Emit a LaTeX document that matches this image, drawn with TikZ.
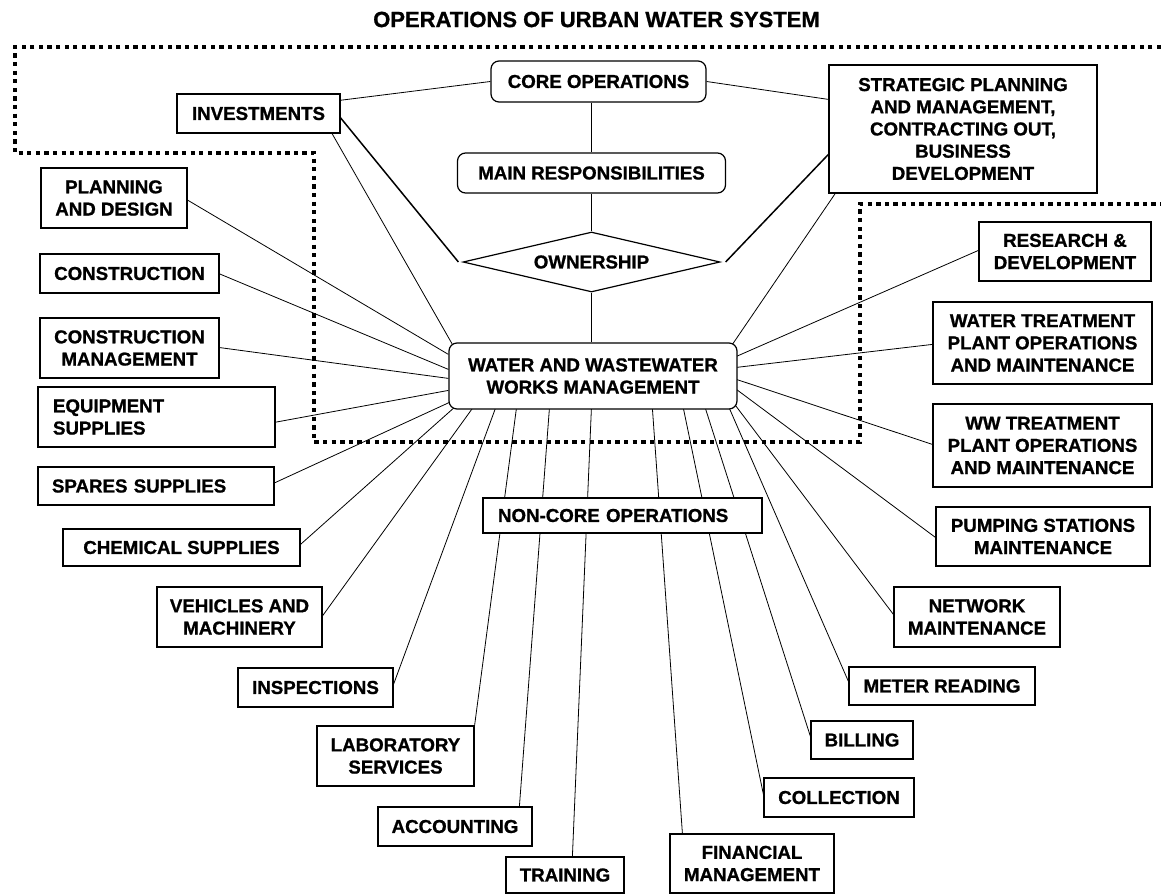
\documentclass[tikz,border=0pt]{standalone}
\usepackage{fontspec}
\setmainfont{Liberation Sans}[BoldFont={Liberation Sans Bold}]
\newfontfamily\lsbold{Liberation Sans Bold}[FakeBold=1]
\usetikzlibrary{shapes.geometric,calc,backgrounds}
\begin{document}
\begin{tikzpicture}[x=1pt,y=-1pt,
  bx/.style={draw=black,line width=1.2pt,fill=white,inner sep=0pt,align=center,
    font=\lsbold\fontsize{18.7}{22.2}\selectfont},
  rbx/.style={bx,rounded corners=8pt},
  ln/.style={line width=0.8pt},
  thk/.style={line width=1.5pt},
  dots/.style={line width=4pt,dash pattern=on 4.3pt off 4.3pt}]
\useasboundingbox (0,0) rectangle (1161,894);

\node[font=\lsbold\fontsize{22}{26}\selectfont] (title) at (596.5,19.5) {OPERATIONS OF URBAN WATER SYSTEM};

% core part
\node[bx,minimum width=163pt,minimum height=39pt] (inv) at (258.5,113.5) {INVESTMENTS};
\node[rbx,minimum width=215pt,minimum height=41pt] (core) at (598.5,81.5) {CORE OPERATIONS};
\node[rbx,minimum width=268pt,minimum height=40pt] (main) at (591.5,173) {MAIN RESPONSIBILITIES};
\node[draw=black,line width=1.2pt,fill=white,shape=diamond,shape aspect=4.3,
  minimum width=257pt,minimum height=60pt,inner sep=0pt,
  font=\lsbold\fontsize{18.7}{22.2}\selectfont] (own) at (591.5,262) {OWNERSHIP};
\node[bx,minimum width=268pt,minimum height=128pt] (strat) at (963,129)
  {STRATEGIC PLANNING\\AND MANAGEMENT,\\CONTRACTING OUT,\\BUSINESS\\DEVELOPMENT};
\node[rbx,minimum width=288pt,minimum height=66pt] (ww) at (593,376)
  {WATER AND WASTEWATER\\WORKS MANAGEMENT};
\node[bx,minimum width=279pt,minimum height=35pt,text width=249pt,align=left] (noncore) at (622.5,515.5)
  {NON-CORE OPERATIONS};

% left column
\node[bx,minimum width=146pt,minimum height=60pt] (plan) at (114,198) {PLANNING\\AND DESIGN};
\node[bx,minimum width=179pt,minimum height=39pt] (constr) at (129.5,273.5) {CONSTRUCTION};
\node[bx,minimum width=179pt,minimum height=60pt] (cmgmt) at (129.5,348) {CONSTRUCTION\\MANAGEMENT};
\node[bx,minimum width=237pt,minimum height=60pt,text width=207pt,align=left] (equip) at (156.5,417)
  {EQUIPMENT\\SUPPLIES};
\node[bx,minimum width=236pt,minimum height=38pt,text width=208pt,align=left] (spares) at (156,486)
  {SPARES SUPPLIES};
\node[bx,minimum width=237pt,minimum height=37pt] (chem) at (181.5,547.5) {CHEMICAL SUPPLIES};
\node[bx,minimum width=165pt,minimum height=60pt] (veh) at (239.5,617) {VEHICLES AND\\MACHINERY};
\node[bx,minimum width=155pt,minimum height=39pt] (insp) at (315.5,687.5) {INSPECTIONS};
\node[bx,minimum width=157pt,minimum height=60pt] (lab) at (395.5,756) {LABORATORY\\SERVICES};
\node[bx,minimum width=154pt,minimum height=39pt] (acc) at (455,826.5) {ACCOUNTING};
\node[bx,minimum width=118pt,minimum height=36pt] (train) at (565,875) {TRAINING};

% right column
\node[bx,minimum width=164pt,minimum height=59pt] (fin) at (752,863.5) {FINANCIAL\\MANAGEMENT};
\node[bx,minimum width=150pt,minimum height=39pt] (coll) at (839,797.5) {COLLECTION};
\node[bx,minimum width=102pt,minimum height=38pt] (bill) at (862,740) {BILLING};
\node[bx,minimum width=186pt,minimum height=38pt] (meter) at (942,686) {METER READING};
\node[bx,minimum width=166pt,minimum height=60pt] (net) at (977,617) {NETWORK\\MAINTENANCE};
\node[bx,minimum width=214pt,minimum height=59pt] (pump) at (1043,536.5) {PUMPING STATIONS\\MAINTENANCE};
\node[bx,minimum width=219pt,minimum height=83pt] (wwtp) at (1042.5,445.5)
  {WW TREATMENT\\PLANT OPERATIONS\\AND MAINTENANCE};
\node[bx,minimum width=219pt,minimum height=82pt] (wtp) at (1042.5,343)
  {WATER TREATMENT\\PLANT OPERATIONS\\AND MAINTENANCE};
\node[bx,minimum width=172pt,minimum height=59pt] (res) at (1065,251.5) {RESEARCH \&\\DEVELOPMENT};

\begin{scope}[on background layer]
  % top structure
  \draw[ln] ($(inv.north west)+(163,7)$) -- (core.west);
  \draw[ln] (core.east) -- ($(strat.north west)+(0,35)$);
  \draw[thk] ($(inv.north west)+(163,23)$) -- ($(own.west)+(-4,0)$);
  \draw[thk] ($(own.east)+(5,0)$) -- ($(strat.north west)+(0,90)$);
  \draw[ln] (main.north |- core.south) -- (main.north);
  \draw[ln] (main.south) -- (own.north);
  \draw[ln] (own.south) -- (own.south |- ww.north);
  \draw[ln] ($(inv.north west)+(155,39)$) -- ($(ww.north west)+(4,2)$);
  \draw[ln] ($(strat.north west)+(11,123)$) -- ($(ww.north west)+(284,2)$);
  % left side
  \draw[ln] ($(plan.north west)+(146,32)$) -- ($(ww.north west)+(0,12)$);
  \draw[ln] ($(constr.north west)+(179,20)$) -- ($(ww.north west)+(0,27)$);
  \draw[ln] ($(cmgmt.north west)+(179,30)$) -- ($(ww.north west)+(0,36)$);
  \draw[ln] ($(equip.north west)+(237,36)$) -- ($(ww.north west)+(0,48)$);
  \draw[ln] ($(spares.north west)+(236,17)$) -- ($(ww.north west)+(1,60)$);
  \draw[ln] ($(chem.north west)+(237,17)$) -- ($(ww.north west)+(6,65)$);
  \draw[ln] ($(veh.north west)+(165,31)$) -- ($(ww.north west)+(24,66)$);
  \draw[ln] ($(insp.north west)+(155,20)$) -- ($(ww.north west)+(47,66)$);
  \draw[ln] (lab.north east) -- ($(ww.north west)+(68,66)$);
  \draw[ln] ($(acc.north west)+(142,0)$) -- ($(ww.north west)+(101,66)$);
  \draw[ln] ($(train.north west)+(67,0)$) -- ($(ww.north west)+(143,66)$);
  % right side
  \draw[ln] ($(fin.north west)+(13,0)$) -- ($(ww.north west)+(204,66)$);
  \draw[ln] ($(coll.north west)+(0,17)$) -- ($(ww.north west)+(235,66)$);
  \draw[ln] ($(bill.north west)+(0,16)$) -- ($(ww.north west)+(257,66)$);
  \draw[ln] ($(meter.north west)+(0,15)$) -- ($(ww.north west)+(281,66)$);
  \draw[ln] ($(net.north west)+(0,28)$) -- ($(ww.north west)+(284,59)$);
  \draw[ln] ($(pump.north west)+(0,31)$) -- ($(ww.north west)+(288,47)$);
  \draw[ln] ($(wwtp.north west)+(0,41)$) -- ($(ww.north west)+(288,37)$);
  \draw[ln] ($(wtp.north west)+(0,43)$) -- ($(ww.north west)+(288,25)$);
  \draw[ln] ($(res.north west)+(0,29)$) -- ($(ww.north west)+(288,14)$);
\end{scope}

% dotted boundary of core operations
\draw[dots] (1161,47) -- (15,47) -- (15,153) -- (314,153) -- (314,442) -- (860,442) -- (860,204) -- (1161,204);
\end{tikzpicture}
\end{document}
